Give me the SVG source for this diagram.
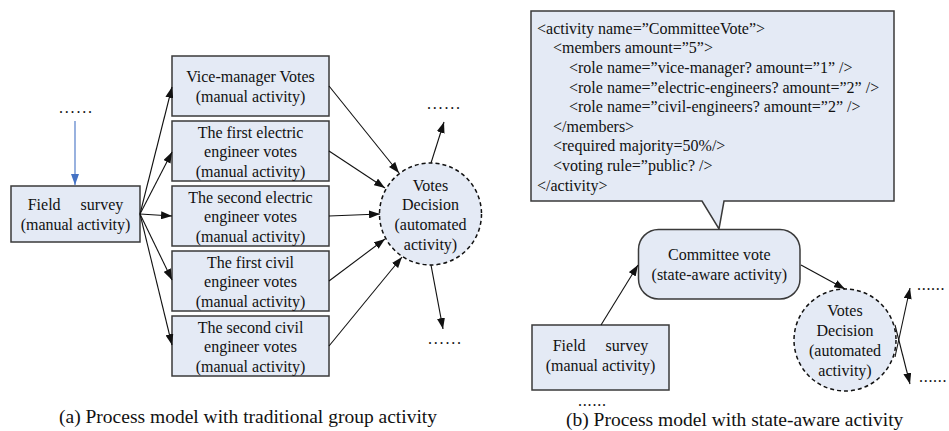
<svg xmlns="http://www.w3.org/2000/svg" width="949" height="431" viewBox="0 0 949 431">
<style>
text{font-family:"Liberation Serif","Times New Roman",serif;font-size:16px;fill:#111}
.c{text-anchor:middle}
.box{fill:#e4eaf5;stroke:#3a3a3a;stroke-width:1.5}
.circ{fill:#e4eaf5;stroke:#111;stroke-width:1.5;stroke-dasharray:4 3}
.e{fill:none;stroke:#111;stroke-width:1.1;marker-end:url(#ah)}
.cap{font-size:19.5px}
.dots{letter-spacing:1.8px}
.dots2{letter-spacing:0.7px}
</style>
<defs>
<marker id="ah" markerUnits="userSpaceOnUse" markerWidth="11" markerHeight="8" refX="11" refY="4" orient="auto">
<path d="M0,0 L11,4 L0,8 z" fill="#111"/>
</marker>
<marker id="ahb" markerUnits="userSpaceOnUse" markerWidth="11" markerHeight="8" refX="11" refY="4" orient="auto">
<path d="M0,0 L11,4 L0,8 z" fill="#4472c4"/>
</marker>
</defs>
<rect width="949" height="431" fill="#fff"/>

<!-- (a) -->
<g id="a-dots-top"><text class="dots" x="59" y="113">......</text></g>
<g id="a-field">
<rect class="box" x="11" y="186" width="129" height="56"/>
<text class="c" x="75.5" y="209.5" xml:space="preserve">Field     survey</text>
<text class="c" x="75.5" y="229.5">(manual activity)</text>
</g>
<g id="a-vice">
<rect class="box" x="172" y="56" width="157" height="60"/>
<text class="c" x="250.5" y="82">Vice-manager Votes</text>
<text class="c" x="250.5" y="102">(manual activity)</text>
</g>
<g id="a-elec1">
<rect class="box" x="172" y="121" width="157" height="60"/>
<text class="c" x="250.5" y="137.5">The first electric</text>
<text class="c" x="250.5" y="157">engineer votes</text>
<text class="c" x="250.5" y="176.5">(manual activity)</text>
</g>
<g id="a-elec2">
<rect class="box" x="172" y="186" width="157" height="60"/>
<text class="c" x="250.5" y="202.5">The second electric</text>
<text class="c" x="250.5" y="222">engineer votes</text>
<text class="c" x="250.5" y="241.5">(manual activity)</text>
</g>
<g id="a-civil1">
<rect class="box" x="172" y="251" width="157" height="60"/>
<text class="c" x="250.5" y="267.5">The first civil</text>
<text class="c" x="250.5" y="287">engineer votes</text>
<text class="c" x="250.5" y="306.5">(manual activity)</text>
</g>
<g id="a-civil2">
<rect class="box" x="172" y="316" width="157" height="60"/>
<text class="c" x="250.5" y="332.5">The second civil</text>
<text class="c" x="250.5" y="352">engineer votes</text>
<text class="c" x="250.5" y="371.5">(manual activity)</text>
</g>
<g id="a-decision">
<circle class="circ" cx="430.5" cy="214" r="51"/>
<text class="c" x="430.5" y="190.5">Votes</text>
<text class="c" x="430.5" y="209.5">Decision</text>
<text class="c" x="430.5" y="229.5">(automated</text>
<text class="c" x="430.5" y="249.5">activity)</text>
</g>
<g id="a-dots-out">
<text class="dots" x="427" y="109">......</text>
<text class="dots" x="428" y="344">......</text>
</g>
<g id="a-caption"><text class="cap" x="59" y="423">(a) Process model with traditional group activity</text></g>

<!-- (b) -->
<g id="b-spec">
<path class="box" d="M531,11 H894 V201 H724 L719,229 L702,201 H531 Z"/>
<text x="537" y="33.8">&lt;activity name=”CommitteeVote”&gt;</text>
<text x="553" y="53.4">&lt;members amount=”5”&gt;</text>
<text x="569" y="73">&lt;role name=”vice-manager? amount=”1” /&gt;</text>
<text x="569" y="92.6">&lt;role name=”electric-engineers? amount=”2” /&gt;</text>
<text x="569" y="112.2">&lt;role name=”civil-engineers? amount=”2” /&gt;</text>
<text x="553" y="131.8">&lt;/members&gt;</text>
<text x="553" y="151.4">&lt;required majority=50%/&gt;</text>
<text x="553" y="171">&lt;voting rule=”public? /&gt;</text>
<text x="537" y="190.6">&lt;/activity&gt;</text>
</g>
<g id="b-committee">
<rect class="box" x="638.5" y="229.5" width="161.5" height="69.5" rx="20"/>
<text class="c" x="719.3" y="259.5">Committee vote</text>
<text class="c" x="719.3" y="279.5">(state-aware activity)</text>
</g>
<g id="b-field">
<rect class="box" x="532" y="325" width="137" height="65"/>
<text class="c" x="600.5" y="351" xml:space="preserve">Field     survey</text>
<text class="c" x="600.5" y="371">(manual activity)</text>
</g>
<g id="b-decision">
<circle class="circ" cx="845" cy="340" r="51"/>
<text class="c" x="845" y="316">Votes</text>
<text class="c" x="845" y="335.5">Decision</text>
<text class="c" x="845" y="355.5">(automated</text>
<text class="c" x="845" y="375.5">activity)</text>
</g>
<g id="b-dots">
<text class="dots2" x="917" y="290">......</text>
<text class="dots2" x="919" y="382">......</text>
<text style="letter-spacing:0.8px" x="578" y="406">......</text>
</g>
<g id="b-caption"><text class="cap" x="566" y="426">(b) Process model with state-aware activity</text></g>

<g id="connectors">
<line x1="75" y1="121" x2="75" y2="185" stroke="#4472c4" stroke-width="1.1" marker-end="url(#ahb)"/>
<line class="e" x1="140" y1="214" x2="172" y2="87"/>
<line class="e" x1="140" y1="214" x2="172" y2="152"/>
<line class="e" x1="140" y1="214" x2="172" y2="216"/>
<line class="e" x1="140" y1="214" x2="172" y2="280"/>
<line class="e" x1="140" y1="214" x2="172" y2="345"/>
<line class="e" x1="329" y1="86" x2="399" y2="173"/>
<line class="e" x1="329" y1="151" x2="385" y2="188"/>
<line class="e" x1="329" y1="216" x2="380" y2="214"/>
<line class="e" x1="329" y1="281" x2="385" y2="239"/>
<line class="e" x1="329" y1="346" x2="402" y2="257"/>
<line class="e" x1="431" y1="163" x2="444" y2="122"/>
<line class="e" x1="431" y1="265" x2="443" y2="329"/>
<line class="e" x1="601" y1="325" x2="638" y2="265"/>
<line class="e" x1="801" y1="265" x2="845" y2="289"/>
<line class="e" x1="895" y1="357" x2="910" y2="288"/>
<line class="e" x1="895" y1="325" x2="910" y2="384"/>
</g>
</svg>
